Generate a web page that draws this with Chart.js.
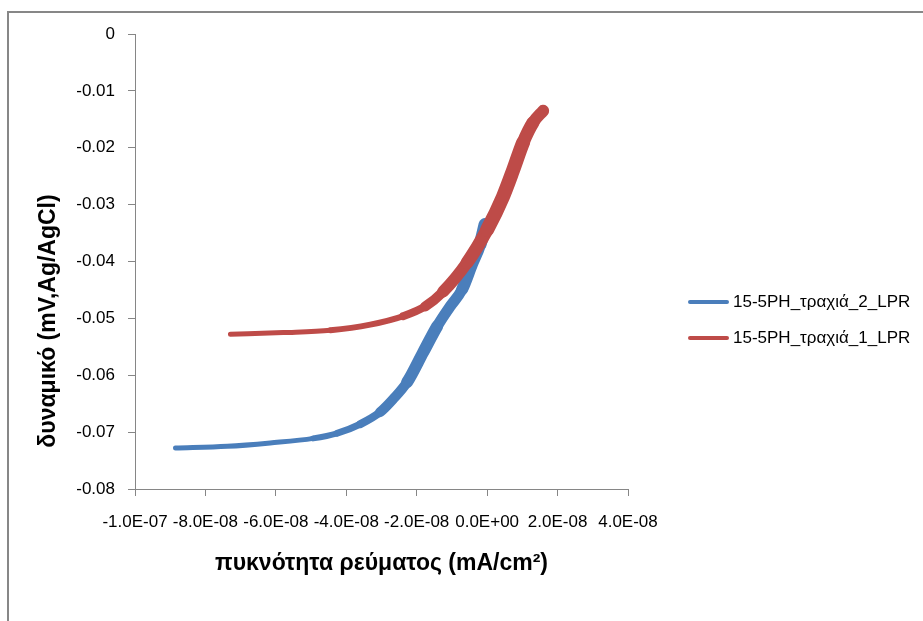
<!DOCTYPE html>
<html><head><meta charset="utf-8">
<script src="https://cdn.jsdelivr.net/npm/chart.js@4/dist/chart.umd.min.js"></script>
<style>
html,body{margin:0;padding:0;background:#fff;overflow:hidden}
#wrap{position:relative;width:923px;height:621px;overflow:hidden}
#frame{position:absolute;left:7px;top:11px;width:1000px;height:1000px;border:2px solid #878787;box-sizing:border-box}
canvas{position:absolute;left:0;top:0}
</style></head><body>
<div id="wrap"><div id="frame"></div><canvas id="c" width="923" height="621" style="width:923px;height:621px"></canvas></div>
<script>
// ---- data ----
const seriesNames = ['15-5PH_τραχιά_2_LPR', '15-5PH_τραχιά_1_LPR'];
const xTitle = 'πυκνότητα ρεύματος (mA/cm²)';
const yTitle = 'δυναμικό (mV,Ag/AgCl)';

// series 2 (blue): current density (mA/cm2) and potential
const blueX = [-8.85e-8, -7.38e-8, -6.16e-8, -4.94e-8, -4.26e-8, -3.60e-8, -3.04e-8, -2.67e-8,
               -2.27e-8, -1.82e-8, -1.42e-8, -1.05e-8, -0.71e-8, -0.43e-8, -0.20e-8, -0.06e-8];
const blueY = [-0.0728, -0.0725, -0.0719, -0.0711, -0.0702, -0.0686, -0.0665, -0.0642,
               -0.0612, -0.0560, -0.0514, -0.0479, -0.0449, -0.0405, -0.0370, -0.0335];

// series 1 (red)
const redX = [-7.29e-8, -5.79e-8, -4.45e-8, -3.32e-8, -2.38e-8, -1.76e-8, -1.25e-8,
              -0.57e-8, 0.00e-8, 0.45e-8, 0.74e-8, 1.02e-8, 1.30e-8, 1.59e-8];
const redY = [-0.0528, -0.0525, -0.0521, -0.0511, -0.0496, -0.0479, -0.0453,
              -0.0402, -0.0344, -0.0286, -0.0239, -0.0191, -0.0156, -0.0135];

const xTicks = [-1.0e-7, -8.0e-8, -6.0e-8, -4.0e-8, -2.0e-8, 0, 2.0e-8, 4.0e-8];
const yTicks = [0, -0.01, -0.02, -0.03, -0.04, -0.05, -0.06, -0.07, -0.08];

// ---- helpers ----
function sci(v) {
  if (Math.abs(v) < 1e-20) return '0.0E+00';
  let e = Math.floor(Math.log10(Math.abs(v)) + 1e-9);
  let m = Math.round(v / Math.pow(10, e) * 10) / 10;
  if (Math.abs(m) >= 10) { m /= 10; e++; }
  return m.toFixed(1) + 'E' + (e < 0 ? '-' : '+') + String(Math.abs(e)).padStart(2, '0');
}
function pts(xs, ys) { return xs.map((x, i) => ({ x: x, y: ys[i] })); }
function band(flat, steep) {
  return c => {
    const dx = c.p1.x - c.p0.x, dy = c.p1.y - c.p0.y;
    const len = Math.hypot(dx, dy) || 1;
    return Math.round(flat + (steep - flat) * Math.pow(Math.abs(dy) / len, 1.5));
  };
}

const BLUE = '#4A7EBB', RED = '#BE4B48', AXIS = '#868686';
const tickFont = { family: '"Liberation Sans", Arial, sans-serif', size: 17 };
const titleFont = { family: '"Liberation Sans", Arial, sans-serif', size: 23, weight: 'bold' };

const sideLegend = {
  id: 'sideLegend',
  afterDraw(chart) {
    const ctx = chart.ctx;
    const rows = [302, 338];
    chart.data.datasets.forEach((ds, i) => {
      const y = rows[i];
      ctx.save();
      ctx.strokeStyle = ds.borderColor;
      ctx.lineWidth = 4;
      ctx.lineCap = 'round';
      ctx.beginPath(); ctx.moveTo(690, y); ctx.lineTo(727, y); ctx.stroke();
      ctx.fillStyle = '#000';
      ctx.font = '17px "Liberation Sans", Arial, sans-serif';
      ctx.textBaseline = 'middle';
      ctx.fillText(ds.label, 733, y);
      ctx.restore();
    });
  }
};
const yTitlePlugin = {
  id: 'yTitlePlugin',
  afterDraw(chart) {
    const ctx = chart.ctx;
    ctx.save();
    ctx.translate(49, 321);
    ctx.rotate(-Math.PI / 2);
    ctx.font = 'bold 23px "Liberation Sans", Arial, sans-serif';
    ctx.fillStyle = '#000';
    ctx.textAlign = 'center';
    ctx.textBaseline = 'middle';
    ctx.fillText(yTitle, 0, 0);
    ctx.restore();
  }
};

new Chart(document.getElementById('c'), {
  type: 'scatter',
  data: {
    datasets: [
      { label: seriesNames[0], data: pts(blueX, blueY), borderColor: BLUE, backgroundColor: BLUE,
        showLine: true, pointRadius: 0, order: 1, cubicInterpolationMode: 'monotone',
        borderWidth: 5, borderCapStyle: 'round', borderJoinStyle: 'round',
        segment: { borderWidth: band(5, 13) } },
      { label: seriesNames[1], data: pts(redX, redY), borderColor: RED, backgroundColor: RED,
        showLine: true, pointRadius: 0, order: 0, cubicInterpolationMode: 'monotone',
        borderWidth: 5, borderCapStyle: 'round', borderJoinStyle: 'round',
        segment: { borderWidth: band(5, 15) } }
    ]
  },
  options: {
    responsive: false,
    animation: false,
    layout: { padding: { left: 0, top: 34, right: 295, bottom: 0 } },
    plugins: { legend: { display: false }, tooltip: { enabled: false } },
    scales: {
      x: {
        type: 'linear', position: 'bottom', min: xTicks[0], max: xTicks[xTicks.length - 1],
        afterBuildTicks: s => { s.ticks = xTicks.map(v => ({ value: v })); },
        afterFit: s => { s.height = 132; },
        grid: { drawOnChartArea: false, drawTicks: true, tickLength: 7, color: AXIS },
        border: { display: true, color: AXIS, width: 1 },
        ticks: { font: tickFont, color: '#000', padding: 16, maxRotation: 0, minRotation: 0, autoSkip: false,
                 callback: v => sci(v) },
        title: { display: true, text: xTitle, font: titleFont, color: '#000', padding: { top: 0, bottom: 44 } }
      },
      y: {
        type: 'linear', position: 'left', min: yTicks[yTicks.length - 1], max: yTicks[0],
        afterBuildTicks: s => { s.ticks = yTicks.map(v => ({ value: v })); },
        afterFit: s => { s.width = 135; },
        grid: { drawOnChartArea: false, drawTicks: true, tickLength: 7, color: AXIS },
        border: { display: true, color: AXIS, width: 1 },
        ticks: { font: tickFont, color: '#000', padding: 13, autoSkip: false,
                 callback: v => (Math.abs(v) < 1e-12 ? '0' : v.toFixed(2)) }
      }
    }
  },
  plugins: [sideLegend, yTitlePlugin]
});
</script>
</body></html>
